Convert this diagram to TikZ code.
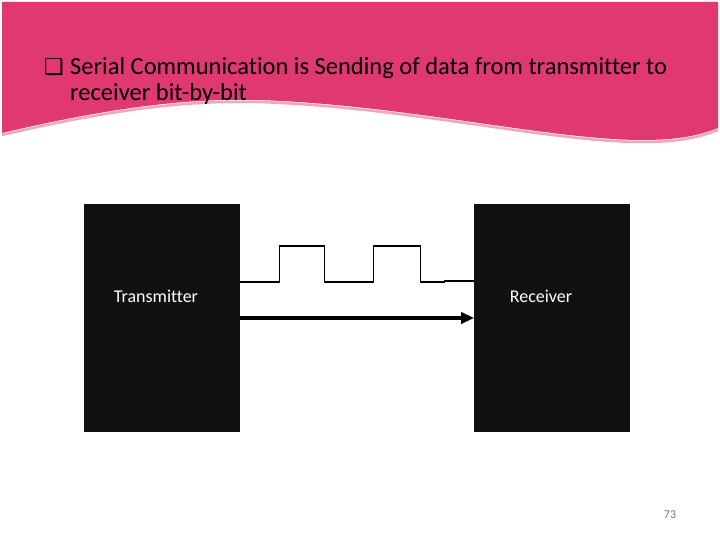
\documentclass[tikz,border=0pt]{standalone}
\usepackage{fontspec}
\setmainfont{Carlito}[Ligatures=NoCommon]
\newfontfamily\symfnt{DejaVu Sans}
\usetikzlibrary{positioning, arrows.meta}
\definecolor{bannerpink}{RGB}{224,56,112}
\definecolor{boxblack}{RGB}{17,17,17}
\definecolor{pagegray}{RGB}{120,120,120}

\begin{document}
\begin{tikzpicture}[
x=1pt, y=-1pt,
box/.style={rectangle, fill=boxblack, minimum width=156pt, minimum height=228pt, inner sep=0pt},
boxlabel/.style={text=white, font=\fontsize{18}{21}\selectfont, inner sep=0pt},
titletext/.style={anchor=base west, inner sep=0pt, font=\fontsize{24.5}{28}\selectfont},
wave/.style={line width=1.1pt},
arrow/.style={-{Triangle[length=13pt, width=11pt]}, line width=4pt}
]
\useasboundingbox (0,0) rectangle (720,540);

\fill[bannerpink] (2,2) -- (718,2) -- (718,128)
  .. controls (700,135) and (680,140) .. (642,140)
  .. controls (550,140) and (400,104) .. (257,100)
  .. controls (180,98) and (100,110) .. (2,133) -- cycle;
\draw[bannerpink!45, line width=2.5pt] (2,135)
  .. controls (100,112) and (180,100) .. (257,102)
  .. controls (400,106) and (550,142) .. (642,142)
  .. controls (680,142) and (700,137) .. (718,130);

\node[titletext] (bullet) at (44,75) {\symfnt\fontsize{22}{24}\selectfont ❑};
\node[titletext] (line_a) at (70,75) {Serial Communication is Sending of data from transmitter to};
\node[titletext] (line_b) at (70,101) {receiver bit-by-bit};

\node[box] (tx) at (162,318) {};
\node[box, right=234pt of tx] (rx) {};
\node[boxlabel] (tx_lbl) at (156,296) {Transmitter};
\node[boxlabel] (rx_lbl) at (541,296) {Receiver};

\coordinate (wave_in) at ([yshift=36pt]tx.east);
\coordinate (wave_out) at ([yshift=37pt]rx.west);
\draw[wave] (wave_in) -- ++(39,0) -- ++(0,-36) -- ++(45,0) -- ++(0,36)
  -- ++(49,0) -- ++(0,-36) -- ++(47,0) -- ++(0,36) -- ++(24,0) |- (wave_out);

\draw[arrow] (tx) -- (rx);

\node[text=pagegray, font=\fontsize{12}{14}\selectfont] (pagenum) at (670,515) {73};
\end{tikzpicture}
\end{document}
